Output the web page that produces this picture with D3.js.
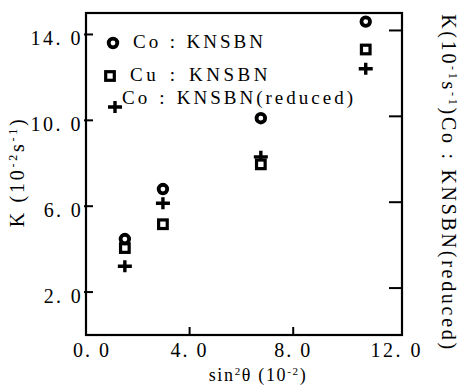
<!DOCTYPE html>
<html><head><meta charset="utf-8">
<script src="https://cdn.jsdelivr.net/npm/d3@7"></script>
<style>
html,body{margin:0;padding:0;background:#fff;}
svg{display:block;}
text{font-family:"Liberation Serif","DejaVu Serif",serif;fill:#000;}
</style></head>
<body>
<script>
const xTicks = [0, 4, 8, 12];
const xTickLabels = ["0. 0", "4. 0", "8. 0", "12. 0"];
const yTicks = [2, 6, 10, 14];
const yTickLabels = ["2. 0", "6. 0", "10. 0", "14. 0"];
const xVals = [1.5, 2.97, 6.75, 10.8];
const coKNSBN = [4.47, 6.8, 10.1, 14.6];
const cuKNSBN = [4.05, 5.16, 7.95, 13.3];
const coReduced = [3.2, 6.14, 8.3, 12.4];

const W = 459, H = 392;
const svg = d3.select("body").append("svg").attr("width", W).attr("height", H);
const x = d3.scaleLinear().domain([0, 12.2]).range([86, 402]);
const y = d3.scaleLinear().domain([0, 15]).range([335, 13]);

// stretch text to a target width via letter-spacing
function fit(sel, target) {
  sel.each(function () {
    const el = this;
    const w = el.getComputedTextLength();
    const n = el.textContent.length;
    if (n > 1) el.setAttribute("letter-spacing", ((target - w) / (n - 1)).toFixed(2));
  });
  return sel;
}
// stretch with letter-spacing, rest via word-spacing
function fitWords(sel, target, ls) {
  sel.each(function () {
    const el = this;
    el.setAttribute("letter-spacing", ls);
    const w = el.getComputedTextLength();
    const nSp = (el.textContent.match(/ /g) || []).length;
    if (nSp > 0) el.setAttribute("word-spacing", Math.max(0, (target - w) / nSp).toFixed(2));
  });
  return sel;
}

// frame
const g = svg.append("g");
g.append("rect").attr("x", x(0)).attr("y", y(15)).attr("width", x(12.2) - x(0)).attr("height", y(0) - y(15))
  .attr("fill", "none").attr("stroke", "#000").attr("stroke-width", 2.2);

// left ticks (inward)
g.selectAll(".lt").data(yTicks).join("line")
  .attr("x1", x(0) - 2).attr("x2", x(0) + 7).attr("y1", d => y(d)).attr("y2", d => y(d))
  .attr("stroke", "#000").attr("stroke-width", 2);
// right ticks (inward)
g.selectAll(".rt").data(yTicks).join("line")
  .attr("x1", x(12.2) - 13).attr("x2", x(12.2)).attr("y1", d => y(d) - 4).attr("y2", d => y(d) - 4)
  .attr("stroke", "#000").attr("stroke-width", 2);
// bottom ticks
g.selectAll(".bt").data(xTicks.slice(1, 3)).join("line")
  .attr("x1", d => x(d)).attr("x2", d => x(d)).attr("y1", y(0)).attr("y2", y(0) - 8)
  .attr("stroke", "#000").attr("stroke-width", 2);

// tick labels
g.selectAll(".yl").data(yTicks).join("text")
  .attr("x", 83).attr("y", d => y(d) + 11).attr("text-anchor", "end")
  .attr("font-size", 20).text((d, i) => yTickLabels[i])
  .each(function (d, i) { fit(d3.select(this), yTickLabels[i].length === 5 ? 50 : 37); });
g.selectAll(".xl").data(xTicks).join("text")
  .attr("x", (d, i) => x(d) + (i === 0 ? 6 : 0)).attr("y", 357).attr("text-anchor", "middle")
  .attr("font-size", 20).text((d, i) => xTickLabels[i])
  .each(function (d, i) { fit(d3.select(this), xTickLabels[i].length === 5 ? 50 : 36); });

// axis titles
const xt = svg.append("text").attr("x", 258).attr("y", 381).attr("text-anchor", "middle").attr("font-size", 18);
xt.append("tspan").text("sin");
xt.append("tspan").attr("dy", -6).attr("font-size", 11).text("2");
xt.append("tspan").attr("dy", 6).text("θ (10");
xt.append("tspan").attr("dy", -6).attr("font-size", 11).text("-2");
xt.append("tspan").attr("dy", 6).text(")");
fit(xt, 97);

const yt = svg.append("text").attr("transform", "translate(24,172) rotate(-90)").attr("text-anchor", "middle").attr("font-size", 20);
yt.append("tspan").text("K (10");
yt.append("tspan").attr("dy", -7).attr("font-size", 12).text("-2");
yt.append("tspan").attr("dy", 7).text("s");
yt.append("tspan").attr("dy", -7).attr("font-size", 12).text("-1");
yt.append("tspan").attr("dy", 7).text(")");
fit(yt, 108);

const rt = svg.append("text").attr("transform", "translate(442,183) rotate(90)").attr("text-anchor", "middle").attr("font-size", 20);
rt.append("tspan").text("K(10");
rt.append("tspan").attr("dy", -7).attr("font-size", 12).text("-1");
rt.append("tspan").attr("dy", 7).text("s");
rt.append("tspan").attr("dy", -7).attr("font-size", 12).text("-1");
rt.append("tspan").attr("dy", 7).text(")Co : KNSBN(reduced)");
fit(rt, 335);

// markers
function circ(sel) {
  sel.append("circle").attr("r", 4.3).attr("fill", "#fff").attr("stroke", "#000").attr("stroke-width", 3.8);
}
function sq(sel) {
  sel.append("rect").attr("x", -4.3).attr("y", -4.3).attr("width", 8.6).attr("height", 8.6)
    .attr("fill", "#fff").attr("stroke", "#000").attr("stroke-width", 3.2);
}
function plus(sel) {
  sel.append("path").attr("d", "M-7,0H7M0,-6V6").attr("stroke", "#000").attr("stroke-width", 3.4).attr("fill", "none");
}
const series = [
  { vals: coReduced, draw: plus },
  { vals: cuKNSBN, draw: sq },
  { vals: coKNSBN, draw: circ }
];
series.forEach(s => {
  g.selectAll(null).data(xVals.map((v, i) => [v, s.vals[i]])).join("g")
    .attr("transform", d => `translate(${x(d[0])},${y(d[1])})`)
    .call(s.draw);
});

// legend
const leg = svg.append("g");
const l1 = leg.append("g").attr("transform", "translate(113,43)"); circ(l1);
fitWords(leg.append("text").attr("x", 133).attr("y", 48).attr("font-size", 19).text("Co : KNSBN"), 133, 3);
const l2 = leg.append("g").attr("transform", "translate(110,76)"); sq(l2);
fitWords(leg.append("text").attr("x", 130).attr("y", 81).attr("font-size", 19).text("Cu : KNSBN"), 141, 3.5);
const l3 = leg.append("g").attr("transform", "translate(115,107)"); plus(l3);
fitWords(leg.append("text").attr("x", 122).attr("y", 104).attr("font-size", 19).text("Co : KNSBN(reduced)"), 234, 3);
</script>
</body></html>
